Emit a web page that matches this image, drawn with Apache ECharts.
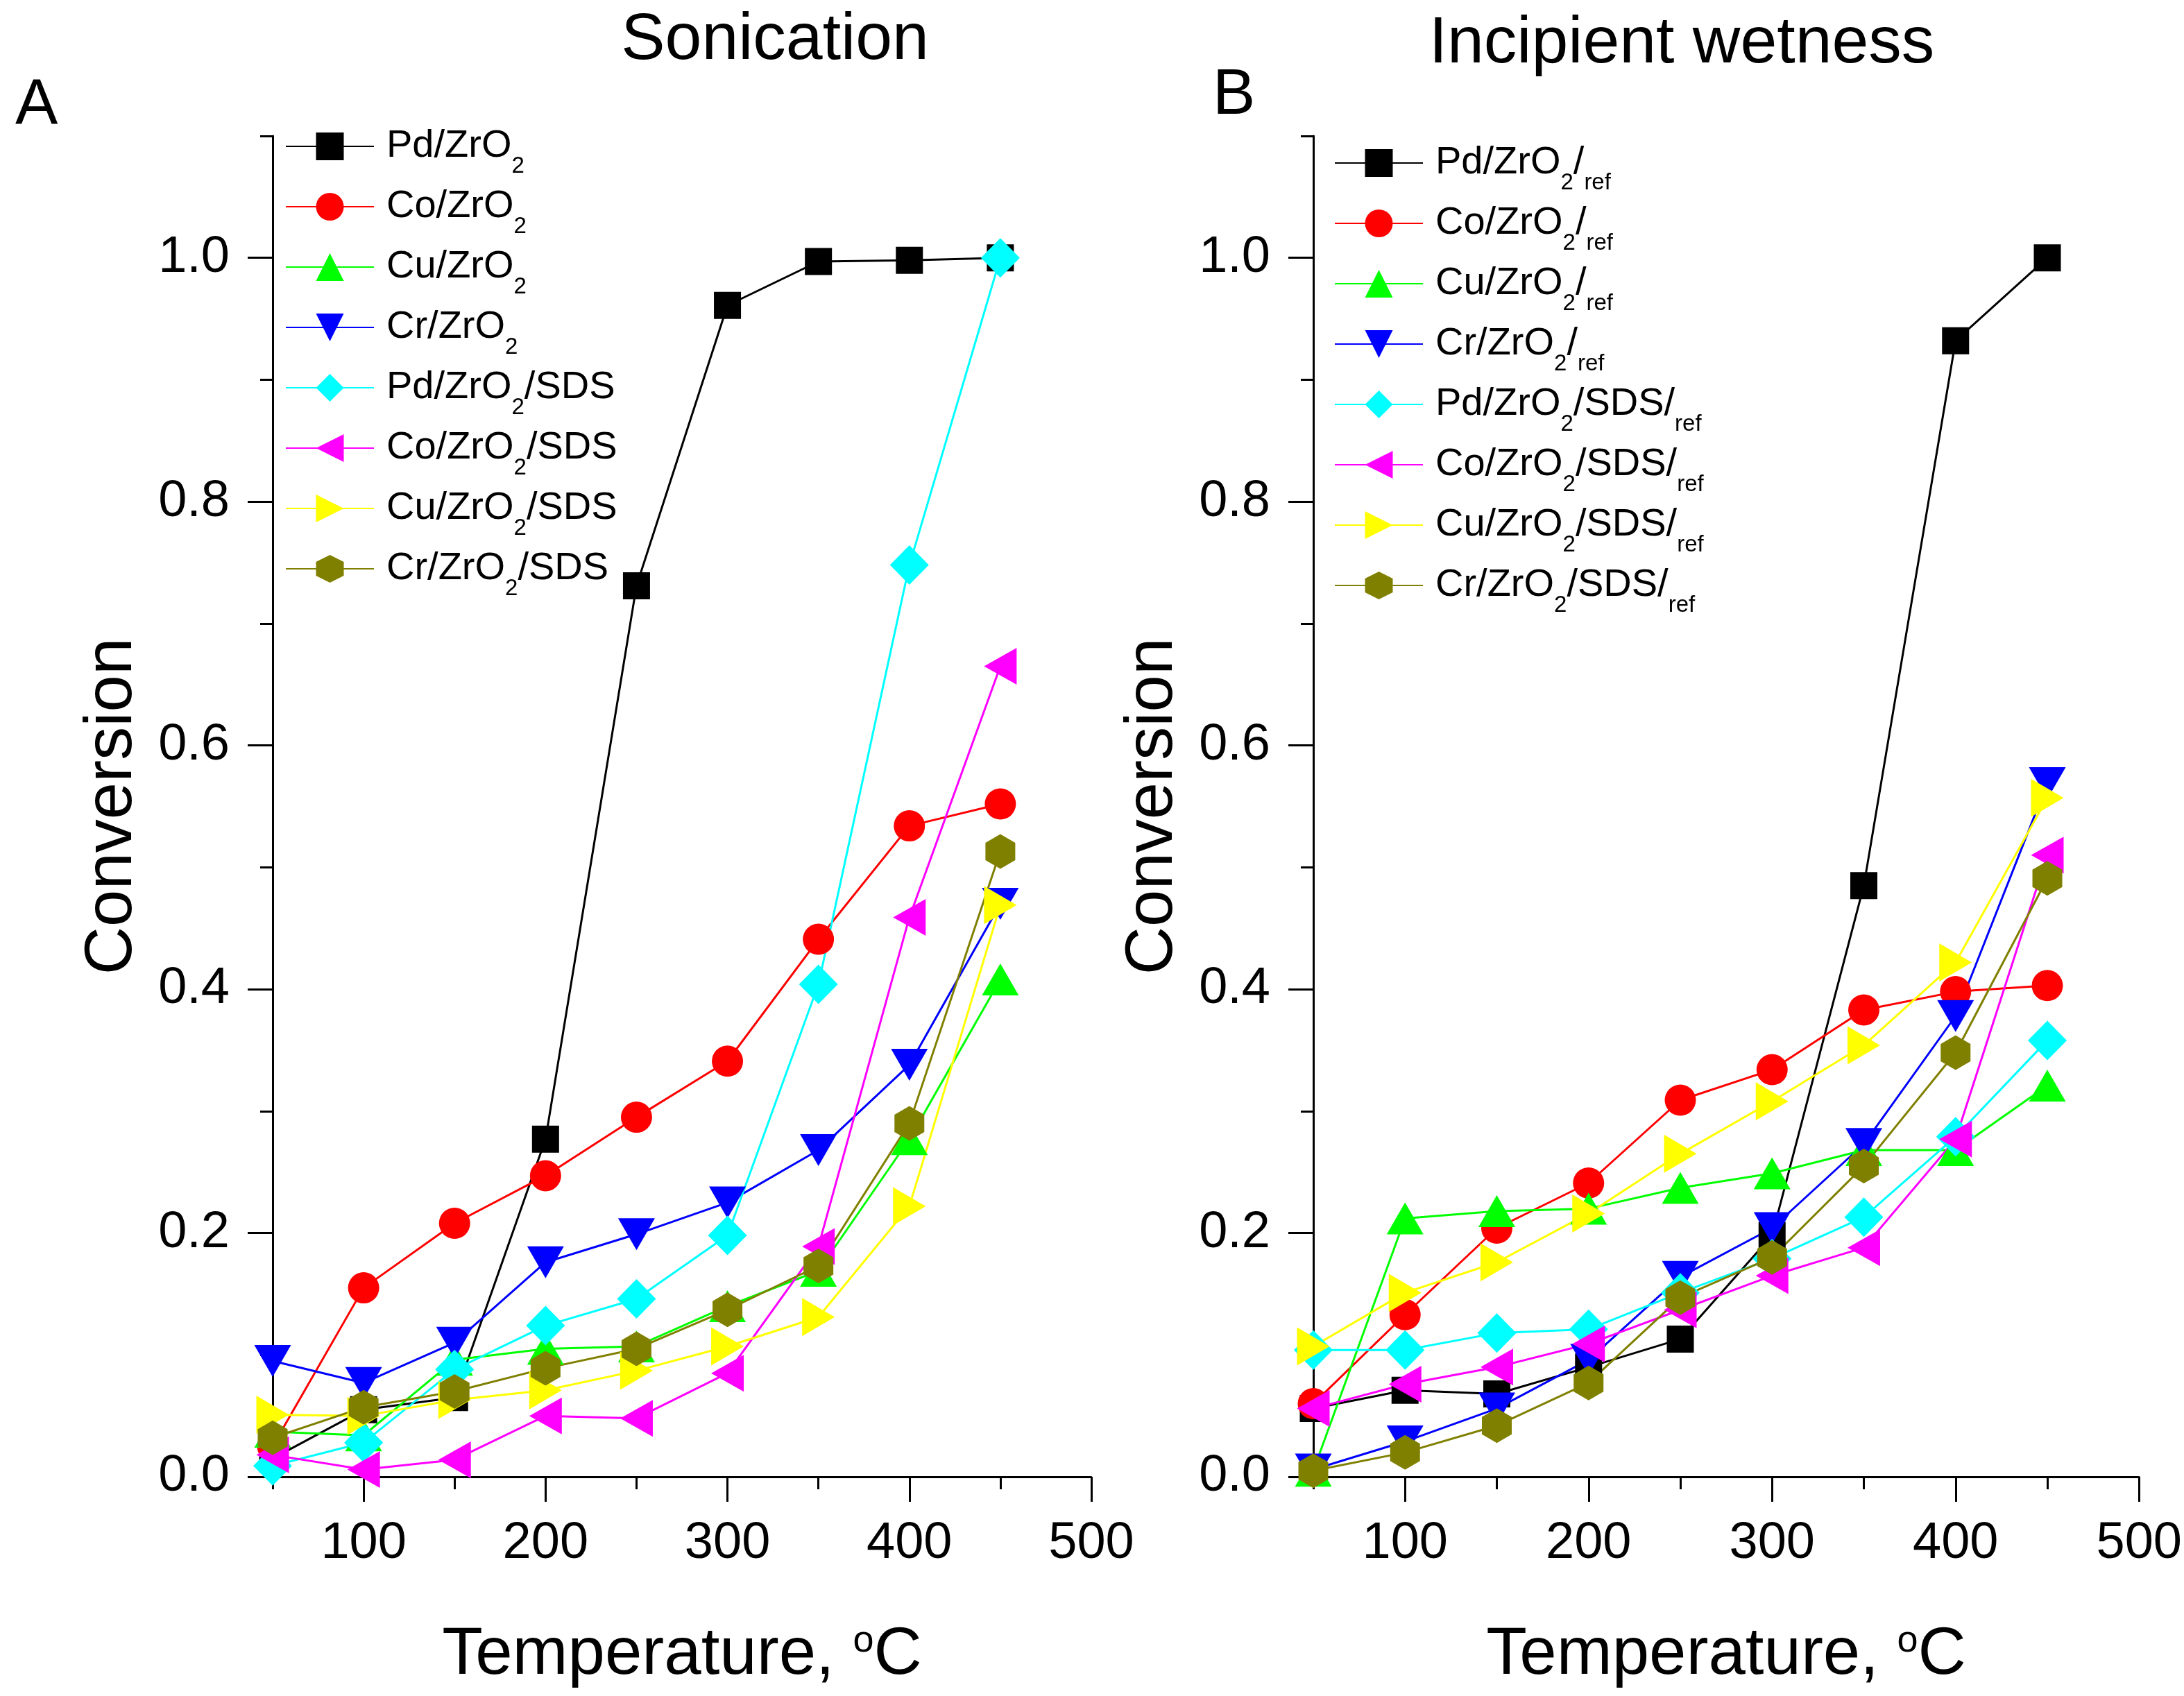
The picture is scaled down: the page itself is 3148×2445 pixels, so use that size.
<!DOCTYPE html>
<html>
<head>
<meta charset="utf-8">
<script src="https://cdn.jsdelivr.net/npm/echarts@6/dist/echarts.min.js"></script>
<style>
  html, body { margin: 0; padding: 0; background: #fff; }
  #chart { width: 3148px; height: 2445px; }
</style>
</head>
<body>
<div id="chart"></div>
<script>
// temperatures, degC
const temps = [50, 100, 150, 200, 250, 300, 350, 400, 450];
const xMajor = [100, 200, 300, 400, 500];
const xMinor = [50, 150, 250, 350, 450];
const yMajor = [0, 0.2, 0.4, 0.6, 0.8, 1.0];
const yMinor = [0.1, 0.3, 0.5, 0.7, 0.9, 1.1];

// panel A - sonication
const sonNames = ['Pd/ZrO2', 'Co/ZrO2', 'Cu/ZrO2', 'Cr/ZrO2',
  'Pd/ZrO2/SDS', 'Co/ZrO2/SDS', 'Cu/ZrO2/SDS', 'Cr/ZrO2/SDS'];
const pdSon = [0.015, 0.055, 0.065, 0.277, 0.731, 0.961, 0.997, 0.998, 1.0];
const coSon = [0.025, 0.155, 0.208, 0.247, 0.295, 0.341, 0.441, 0.534, 0.552];
const cuSon = [0.037, 0.034, 0.096, 0.105, 0.107, 0.140, 0.169, 0.277, 0.408];
const crSon = [0.095, 0.077, 0.110, 0.176, 0.199, 0.225, 0.268, 0.338, 0.470];
const pdSdsSon = [0.009, 0.028, 0.088, 0.124, 0.146, 0.198, 0.404, 0.748, 1.0];
const coSdsSon = [0.018, 0.006, 0.014, 0.050, 0.048, 0.085, 0.189, 0.459, 0.665];
const cuSdsSon = [0.051, 0.050, 0.063, 0.071, 0.087, 0.107, 0.131, 0.222, 0.469];
const crSdsSon = [0.032, 0.057, 0.070, 0.089, 0.105, 0.137, 0.173, 0.290, 0.513];

// panel B - incipient wetness
const refNames = ['Pd/ZrO2/ref', 'Co/ZrO2/ref', 'Cu/ZrO2/ref', 'Cr/ZrO2/ref',
  'Pd/ZrO2/SDS/ref', 'Co/ZrO2/SDS/ref', 'Cu/ZrO2/SDS/ref', 'Cr/ZrO2/SDS/ref'];
const pdRef = [0.056, 0.071, 0.068, 0.090, 0.113, 0.198, 0.485, 0.932, 1.0];
const coRef = [0.060, 0.133, 0.204, 0.241, 0.309, 0.334, 0.383, 0.398, 0.403];
const cuRef = [0.005, 0.212, 0.218, 0.220, 0.237, 0.249, 0.268, 0.268, 0.321];
const crRef = [0.006, 0.029, 0.056, 0.096, 0.164, 0.204, 0.273, 0.378, 0.569];
const pdSdsRef = [0.104, 0.104, 0.118, 0.121, 0.151, 0.179, 0.213, 0.279, 0.358];
const coSdsRef = [0.056, 0.076, 0.090, 0.109, 0.137, 0.165, 0.188, 0.277, 0.510];
const cuSdsRef = [0.107, 0.151, 0.176, 0.216, 0.265, 0.308, 0.354, 0.422, 0.557];
const crSdsRef = [0.005, 0.020, 0.042, 0.077, 0.147, 0.180, 0.255, 0.348, 0.491];

const FONT = 'Liberation Sans, Arial, sans-serif';

// origin-like markers: colour, symbol, size [w, h]
const markers = [
  { color: '#000000', symbol: 'rect', size: [39, 39] },
  { color: '#ff0000', symbol: 'circle', size: [45, 45] },
  { color: '#00ff00', symbol: 'triangle', size: [53, 46] },
  { color: '#0000ff', symbol: 'path://M0,0L2,0L1,2Z', size: [53, 46] },
  { color: '#00ffff', symbol: 'diamond', size: [56, 57] },
  { color: '#ff00ff', symbol: 'path://M2,0L2,2L0,1Z', size: [47, 53] },
  { color: '#ffff00', symbol: 'path://M0,0L0,2L2,1Z', size: [47, 55] },
  { color: '#808000', symbol: 'path://M1,0L2,0.5L2,1.5L1,2L0,1.5L0,0.5Z', size: [43, 50] }
];

function pairs(vals) {
  return temps.map((t, i) => [t, vals[i]]);
}

function makeSeries(names, sets, axisIdx) {
  return names.map((name, i) => ({
    name: name,
    type: 'line',
    xAxisIndex: axisIdx,
    yAxisIndex: axisIdx,
    data: pairs(sets[i]),
    symbol: markers[i].symbol,
    symbolSize: markers[i].size,
    showAllSymbol: true,
    lineStyle: { color: markers[i].color, width: 3 },
    itemStyle: { color: markers[i].color, borderWidth: 0 },
    emphasis: { disabled: true }
  }));
}

// "Pd/ZrO2/SDS/ref" -> rich text with subscripts
function richName(name) {
  const parts = name.split('ZrO2');
  let s = '{m|' + parts[0] + 'ZrO}{s|2}';
  let rest = parts[1];
  if (rest.endsWith('/ref')) {
    s += '{m|' + rest.slice(0, -3) + '}{s|ref}';
  } else if (rest) {
    s += '{m|' + rest + '}';
  }
  return s;
}

const legendText = {
  fontFamily: FONT, fontSize: 56, color: '#000', padding: [0, 0, 0, 13],
  rich: {
    m: { fontFamily: FONT, fontSize: 56, lineHeight: 90, color: '#000' },
    s: { fontFamily: FONT, fontSize: 33, lineHeight: 33, verticalAlign: 'bottom', color: '#000' }
  }
};

function legendFor(names, left, top) {
  return {
    data: names, orient: 'vertical', left: left, top: top, padding: 0,
    itemWidth: 127, itemHeight: 50, itemGap: 14, selectedMode: false,
    lineStyle: { width: 2 },
    formatter: richName, textStyle: legendText
  };
}

function xAxes(grid) {
  const base = { type: 'value', gridIndex: grid, min: 50, max: 500, position: 'bottom', splitLine: { show: false } };
  return [
    Object.assign({}, base, {
      axisLine: { show: true, onZero: false, lineStyle: { color: '#000', width: 3 } },
      axisTick: { show: true, length: 36, lineStyle: { color: '#000', width: 3 }, customValues: xMajor },
      axisLabel: { fontFamily: FONT, fontSize: 74, color: '#000', margin: 60, customValues: xMajor },
      name: 'Temperature, {sup|o}C', nameLocation: 'middle', nameGap: 210,
      nameTextStyle: { fontFamily: FONT, fontSize: 96, color: '#000',
        rich: { sup: { fontFamily: FONT, fontSize: 54, lineHeight: 30, verticalAlign: 'top', color: '#000' } } }
    }),
    Object.assign({}, base, {
      axisLine: { show: false },
      axisTick: { show: true, length: 18, lineStyle: { color: '#000', width: 3 }, customValues: xMinor },
      axisLabel: { show: false }
    })
  ];
}

function yAxes(grid) {
  const base = { type: 'value', gridIndex: grid, min: 0, max: 1.1, position: 'left', splitLine: { show: false } };
  return [
    Object.assign({}, base, {
      axisLine: { show: true, onZero: false, lineStyle: { color: '#000', width: 3 } },
      axisTick: { show: true, length: 36, lineStyle: { color: '#000', width: 3 }, customValues: yMajor },
      axisLabel: { fontFamily: FONT, fontSize: 74, color: '#000', margin: 62, customValues: yMajor,
        formatter: v => v.toFixed(1) },
      name: 'Conversion', nameLocation: 'middle', nameGap: 182,
      nameTextStyle: { fontFamily: FONT, fontSize: 96, color: '#000' }
    }),
    Object.assign({}, base, {
      axisLine: { show: false },
      axisTick: { show: true, length: 18, lineStyle: { color: '#000', width: 3 }, customValues: yMinor },
      axisLabel: { show: false }
    })
  ];
}

const chart = echarts.init(document.getElementById('chart'), null, { renderer: 'canvas' });

const option = {
  backgroundColor: '#fff',
  animation: false,
  title: [
    { text: 'Sonication', left: 1117, top: 11, textAlign: 'center', padding: 0,
      textStyle: { fontFamily: FONT, fontSize: 95, fontWeight: 'normal', color: '#000' } },
    { text: 'Incipient wetness', left: 2424, top: 16, textAlign: 'center', padding: 0,
      textStyle: { fontFamily: FONT, fontSize: 95, fontWeight: 'normal', color: '#000' } },
    { text: 'A', left: 22, top: 108, padding: 0,
      textStyle: { fontFamily: FONT, fontSize: 92, fontWeight: 'normal', color: '#000' } },
    { text: 'B', left: 1748, top: 93, padding: 0,
      textStyle: { fontFamily: FONT, fontSize: 92, fontWeight: 'normal', color: '#000' } }
  ],
  legend: [legendFor(sonNames, 411, 183), legendFor(refNames, 1923, 207)],
  grid: [
    { left: 393, right: 1575, top: 196, bottom: 316 },
    { left: 1893, right: 63, top: 196, bottom: 316 }
  ],
  // axes 0,1 on grid A; 2,3 on grid B
  xAxis: xAxes(0).concat(xAxes(1)),
  yAxis: yAxes(0).concat(yAxes(1)),
  series: makeSeries(sonNames,
      [pdSon, coSon, cuSon, crSon, pdSdsSon, coSdsSon, cuSdsSon, crSdsSon], 0)
    .concat(makeSeries(refNames,
      [pdRef, coRef, cuRef, crRef, pdSdsRef, coSdsRef, cuSdsRef, crSdsRef], 2))
};

chart.setOption(option);
</script>
</body>
</html>
